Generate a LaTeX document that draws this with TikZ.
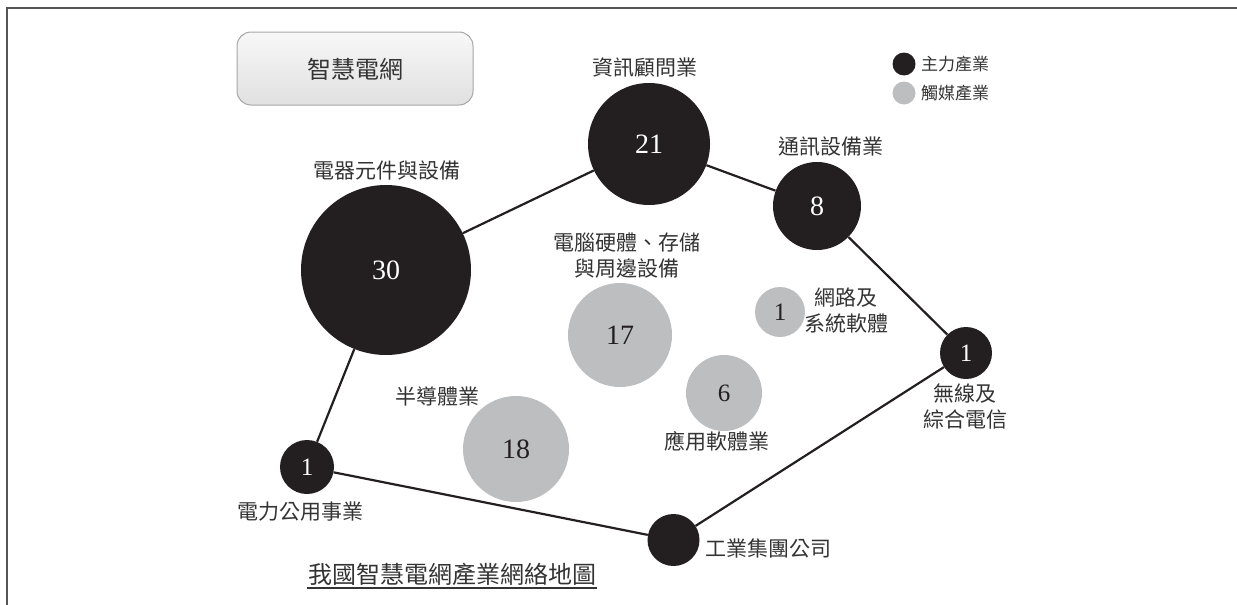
\documentclass[tikz,border=0pt]{standalone}
\usepackage{fontspec}
\setmainfont{Liberation Serif}
\newfontfamily\cjk{Noto Sans CJK TC}
\definecolor{blk}{HTML}{231F20}
\definecolor{gry}{HTML}{BCBEC0}
\definecolor{framec}{HTML}{555555}
\definecolor{txt}{HTML}{333333}
\tikzset{
  main/.style={circle, fill=blk, inner sep=0pt, text=white, font=\fontsize{28}{30}\selectfont},
  cat/.style={circle, fill=gry, inner sep=0pt, text=blk, font=\fontsize{28}{30}\selectfont},
  lbl/.style={text=txt, inner sep=0pt, align=center, font=\cjk\fontsize{21}{26}\selectfont},
  link/.style={draw=blk, line width=2.2pt},
  leg/.style={text=txt, inner sep=0pt, anchor=west, font=\cjk\fontsize{17}{20}\selectfont}
}
\begin{document}
\begin{tikzpicture}[x=1pt,y=-1pt]
\useasboundingbox (0,0) rectangle (1237,605);
\draw[framec, line width=2pt] (7,605) -- (7,8) -- (1237,8);
% title box
\shade[top color=gray!6, bottom color=gray!24, draw=gray!70, line width=1pt, rounded corners=14pt]
  (237,32) rectangle (473,105);
\node[text=txt, inner sep=0pt, font=\cjk\fontsize{24}{28}\selectfont] (title) at (355,69) {智慧電網};
% legend
\node[circle, fill=blk, minimum size=23pt, inner sep=0pt] (lega) at (904,64) {};
\node[leg] (legat) at (921,64) {主力產業};
\node[circle, fill=gry, minimum size=23pt, inner sep=0pt] (legb) at (904,93) {};
\node[leg] (legbt) at (921,93) {觸媒產業};
% main circles
\node[main, minimum size=170pt] (c30) at (386,270) {30};
\node[main, minimum size=122pt] (c21) at (649,144) {21};
\node[main, minimum size=88pt] (c8) at (817,206) {8};
\node[main, minimum size=52pt, font=\fontsize{25}{27}\selectfont] (cw) at (966,353) {1};
\node[main, minimum size=52pt] (ci) at (673.5,540) {};
\node[main, minimum size=54pt, font=\fontsize{25}{27}\selectfont] (ce) at (307,467) {1};
% catalyst circles
\node[cat, minimum size=104pt] (c17) at (620,335) {17};
\node[cat, minimum size=106pt] (c18) at (516,449) {18};
\node[cat, minimum size=76pt, font=\fontsize{25}{27}\selectfont] (c6) at (724,393) {6};
\node[cat, minimum size=50pt, font=\fontsize{25}{27}\selectfont] (cn) at (780,312) {1};
% links
\draw[link] (c30) -- (c21);
\draw[link] (c21) -- (c8);
\draw[link] (c8) -- (cw);
\draw[link] (cw) -- (ci);
\draw[link] (ci) -- (ce);
\draw[link] (ce) -- (c30);
% labels
\node[lbl] (l30) at (387,171) {電器元件與設備};
\node[lbl] (l21) at (645,67) {資訊顧問業};
\node[lbl] (l8) at (831,147) {通訊設備業};
\node[lbl] (l17) at (627,256) {電腦硬體、存儲\\與周邊設備};
\node[lbl] (ln) at (846,311) {網路及\\系統軟體};
\node[lbl] (lw) at (965,406) {無線及\\綜合電信};
\node[lbl] (l6) at (717,441) {應用軟體業};
\node[lbl] (l18) at (437,397) {半導體業};
\node[lbl] (le) at (300,512) {電力公用事業};
\node[lbl, anchor=west] (li) at (705,548) {工業集團公司};
% caption
\node[text=txt, inner sep=0pt, font=\cjk\fontsize{24}{28}\selectfont] (cap) at (452,574) {我國智慧電網產業網絡地圖};
\draw[txt, line width=1.2pt] (307,588) -- (597,588);
\end{tikzpicture}
\end{document}
